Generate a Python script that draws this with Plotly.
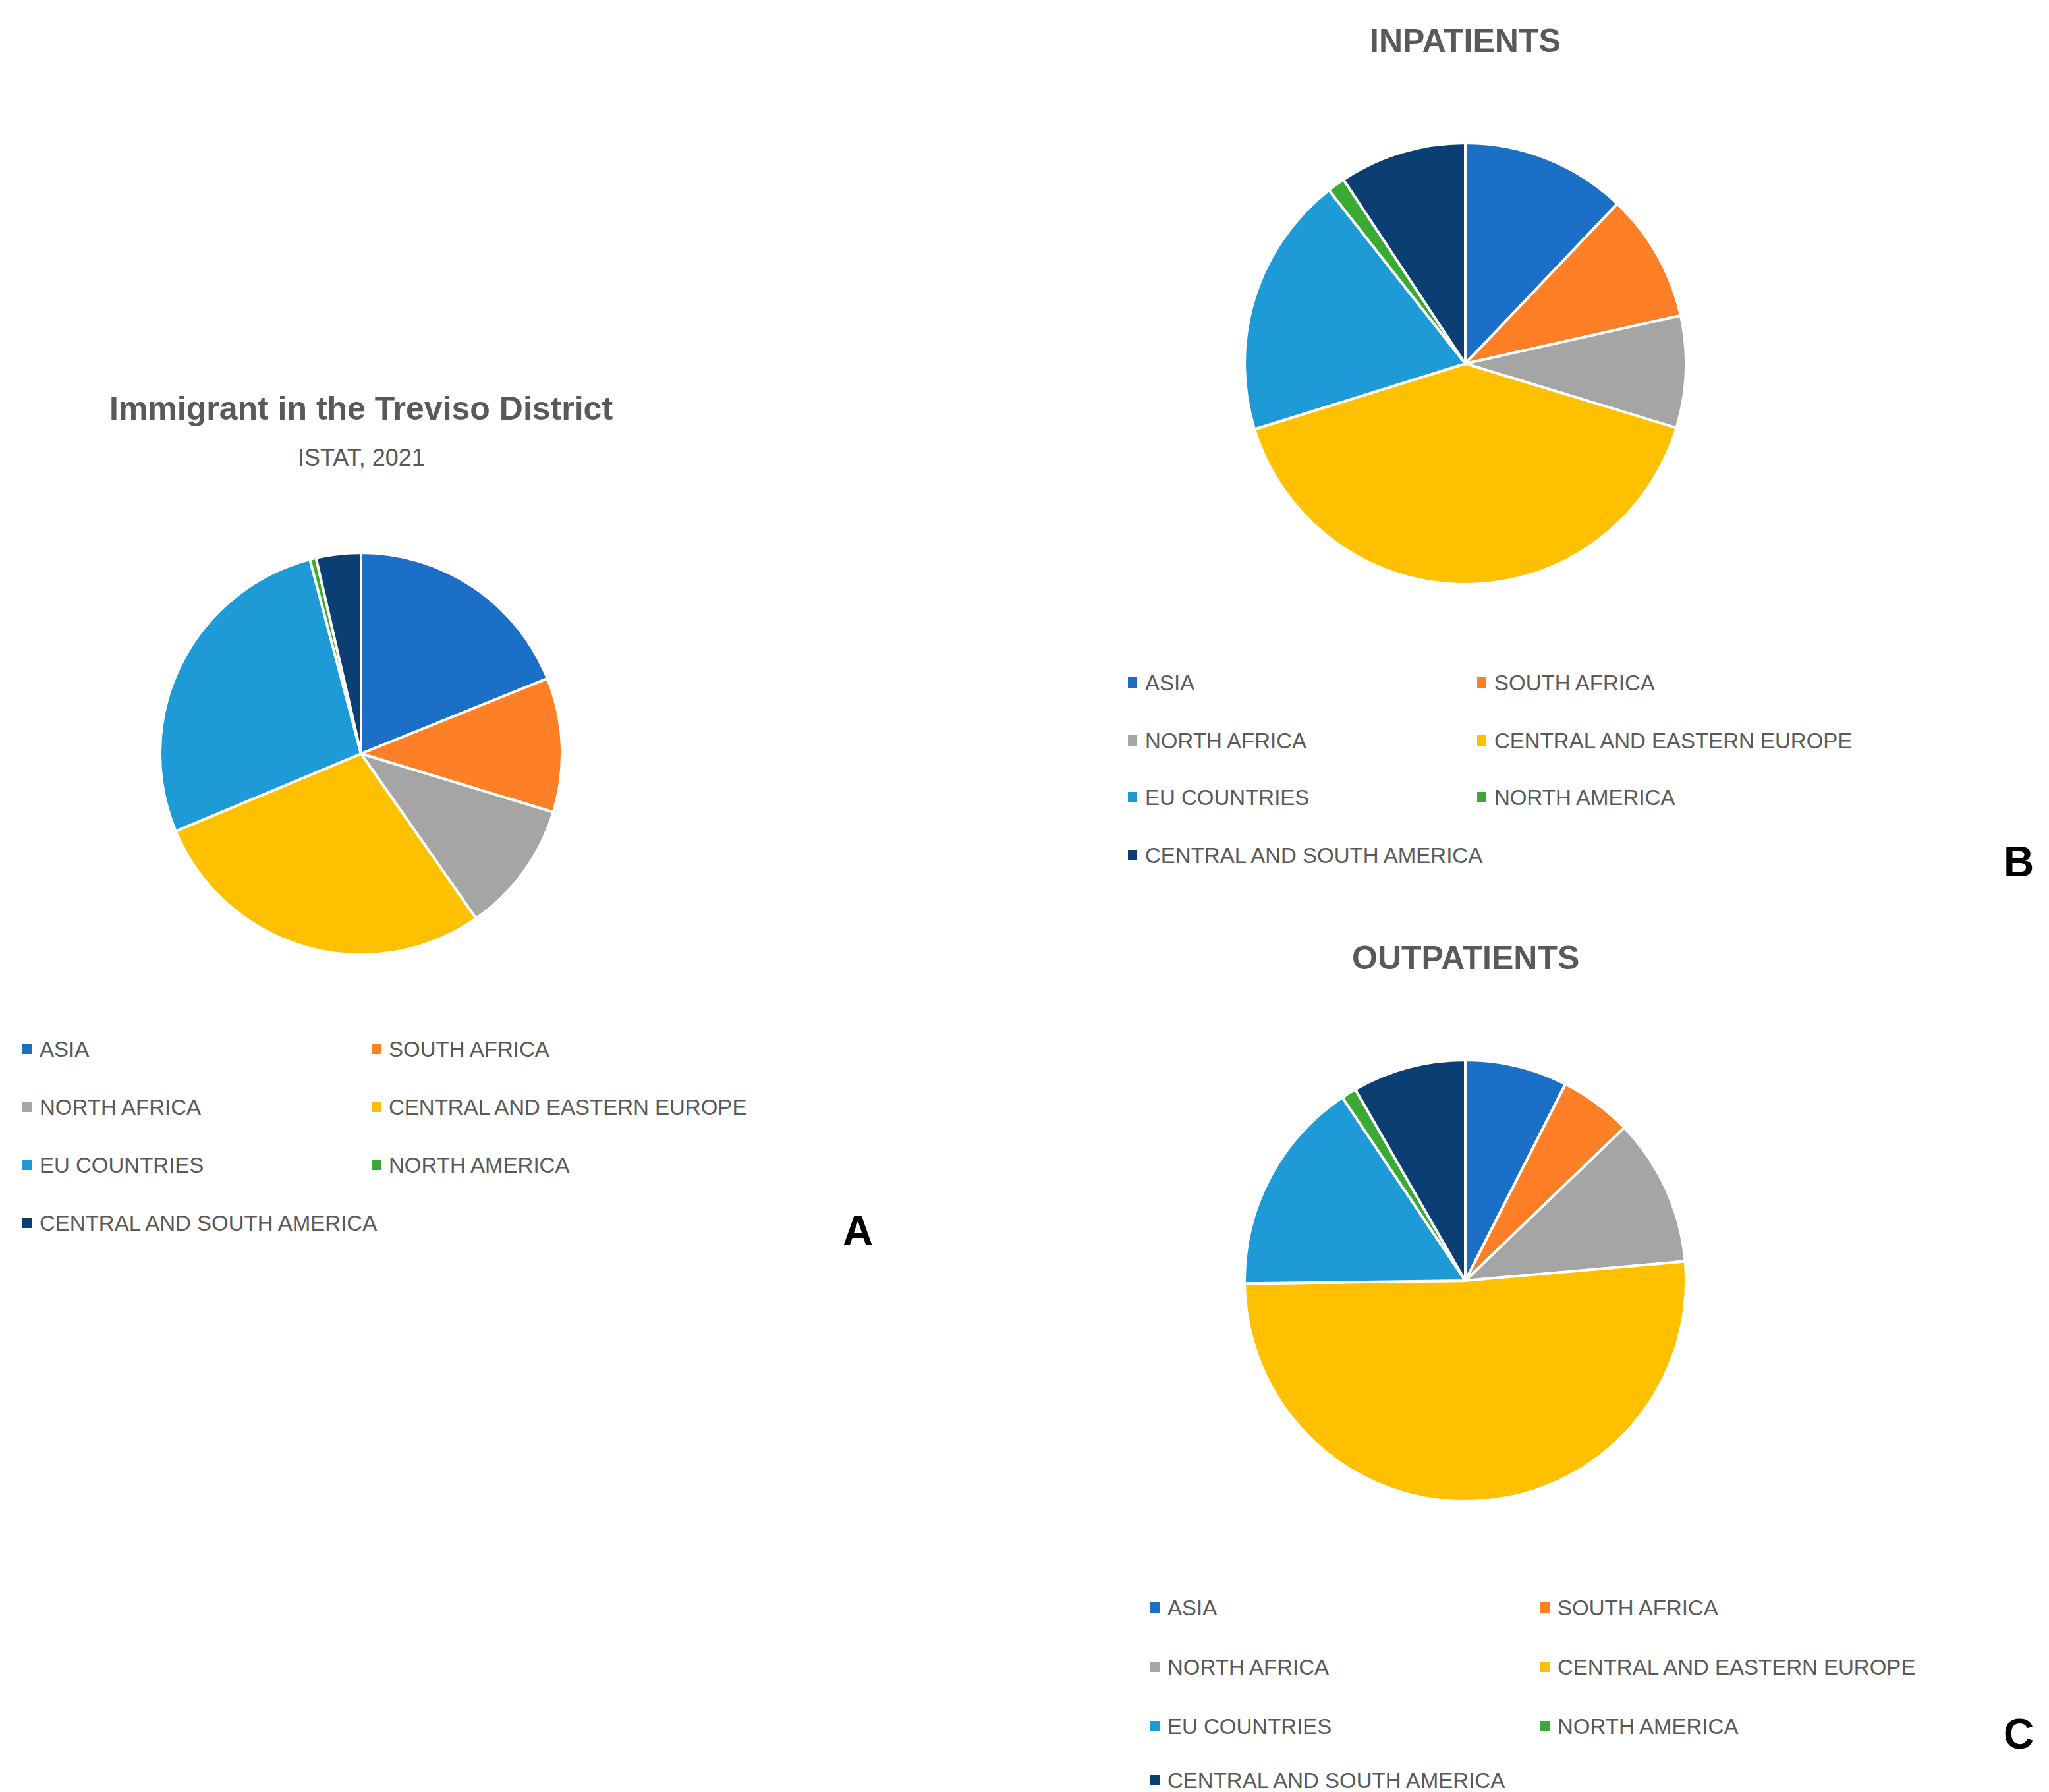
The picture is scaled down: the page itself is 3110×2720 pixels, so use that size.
import plotly.graph_objects as go

regions = ["ASIA", "SOUTH AFRICA", "NORTH AFRICA", "CENTRAL AND EASTERN EUROPE",
           "EU COUNTRIES", "NORTH AMERICA", "CENTRAL AND SOUTH AMERICA"]
colors = ["#1C6FC7", "#FF7F27", "#A5A5A5", "#FFC000", "#1E9BD7", "#3AAA35", "#0B3F73"]

treviso = [18.9, 10.8, 10.6, 28.4, 27.2, 0.5, 3.6]
inpatients = [12.1, 9.4, 8.2, 40.5, 19.2, 1.3, 9.3]
outpatients = [7.5, 5.3, 10.8, 51.2, 15.8, 1.1, 8.3]

W, H = 3110, 2720
FONT = "Liberation Sans Narrow, Liberation Sans, sans-serif"

def px_x(x):
    return x / W

def px_y(y):
    return 1 - y / H

fig = go.Figure()

def add_pie(vals, cx, cy, r):
    fig.add_trace(go.Pie(
        labels=regions, values=vals, sort=False, direction="clockwise", rotation=0,
        marker=dict(colors=colors, line=dict(color="white", width=4)),
        textinfo="none", showlegend=False, hole=0,
        domain=dict(x=[px_x(cx - r), px_x(cx + r)], y=[px_y(cy + r), px_y(cy - r)]),
    ))

add_pie(treviso, 540, 1136, 305)
add_pie(inpatients, 2216, 544, 335)
add_pie(outpatients, 2216, 1936, 335)

annotations = []
shapes = []

def text(x, y, s, size, color="#595959", bold=False, xanchor="center"):
    annotations.append(dict(
        x=px_x(x), y=px_y(y), xref="paper", yref="paper", showarrow=False,
        text=f"<b>{s}</b>" if bold else s, xanchor=xanchor, yanchor="middle",
        font=dict(family=FONT, size=size, color=color)))

def legend(x1, x2, rows):
    for i, name in enumerate(regions):
        col = i % 2
        row = i // 2
        mx = x1 if col == 0 else x2
        y = rows[row]
        shapes.append(dict(type="rect", xref="paper", yref="paper",
                           x0=px_x(mx), x1=px_x(mx + 14), y0=px_y(y + 8), y1=px_y(y - 8),
                           fillcolor=colors[i], line=dict(width=0)))
        text(mx + 24, y, name, 33, xanchor="left")

text(540, 612, "Immigrant in the Treviso District", 50, bold=True)
text(540, 686, "ISTAT, 2021", 36)
text(2216, 54, "INPATIENTS", 50, bold=True)
text(2216, 1446, "OUTPATIENTS", 50, bold=True)

legend(26, 556, [1584, 1672, 1760, 1848])
legend(1704, 2234, [1028, 1116, 1202, 1290])
legend(1738, 2330, [2432, 2522, 2612, 2694])

text(1294, 1860, "A", 64, color="black", bold=True)
text(3056, 1300, "B", 64, color="black", bold=True)
text(3056, 2624, "C", 64, color="black", bold=True)

fig.update_layout(width=W, height=H, margin=dict(l=0, r=0, t=0, b=0),
                  paper_bgcolor="white", plot_bgcolor="white",
                  annotations=annotations, shapes=shapes)

fig.write_html("out.html")
